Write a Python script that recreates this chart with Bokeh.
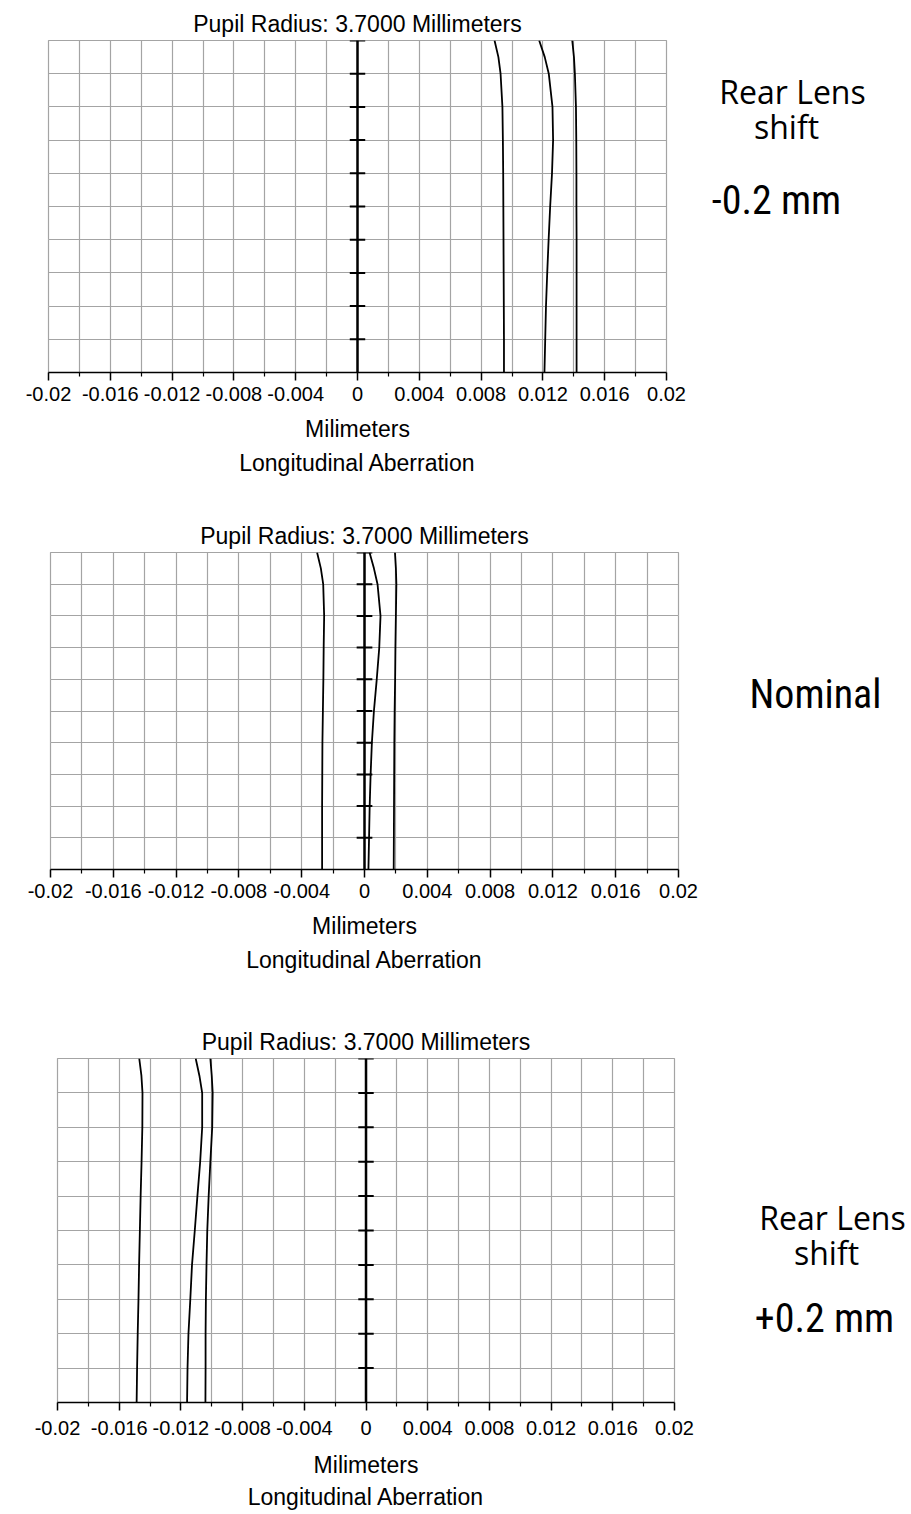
from bokeh.plotting import figure
from bokeh.layouts import row, column
from bokeh.models import Range1d, FixedTicker, Grid, Title
from bokeh.core.properties import value
from bokeh.embed import file_html
from bokeh.resources import INLINE

# ---------------- data ----------------
PUPIL = [0.0, 0.1, 0.2, 0.3, 0.4, 0.5, 0.6, 0.7, 0.8, 0.9, 0.95, 1.0]

# Rear lens shift -0.2 mm
p1_a = [0.00948, 0.00948, 0.00947, 0.00946, 0.00945, 0.00944, 0.00943, 0.00941, 0.00938, 0.00926, 0.00912, 0.00887]
p1_b = [0.01210, 0.01215, 0.01220, 0.01228, 0.01237, 0.01247, 0.01259, 0.01266, 0.01262, 0.01238, 0.01212, 0.01176]
p1_c = [0.01418, 0.01418, 0.01418, 0.01418, 0.01418, 0.01417, 0.01417, 0.01416, 0.01414, 0.01407, 0.01401, 0.01390]

# Nominal
p2_a = [-0.00270, -0.00270, -0.00270, -0.00269, -0.00268, -0.00265, -0.00262, -0.00260, -0.00257, -0.00263, -0.00278, -0.00302]
p2_b = [0.00025, 0.00029, 0.00033, 0.00039, 0.00047, 0.00060, 0.00078, 0.00094, 0.00102, 0.00083, 0.00060, 0.00032]
p2_c = [0.00186, 0.00187, 0.00188, 0.00189, 0.00190, 0.00192, 0.00195, 0.00197, 0.00200, 0.00203, 0.00200, 0.00194]

# Rear lens shift +0.2 mm
p3_a = [-0.01487, -0.01484, -0.01480, -0.01475, -0.01471, -0.01466, -0.01461, -0.01455, -0.01450, -0.01449, -0.01456, -0.01470]
p3_b = [-0.01160, -0.01157, -0.01151, -0.01139, -0.01128, -0.01110, -0.01093, -0.01075, -0.01062, -0.01062, -0.01080, -0.01104]
p3_c = [-0.01041, -0.01040, -0.01040, -0.01038, -0.01034, -0.01029, -0.01020, -0.01009, -0.00997, -0.00994, -0.01000, -0.01009]

X_TICKS = [-0.02, -0.016, -0.012, -0.008, -0.004, 0.0, 0.004, 0.008, 0.012, 0.016, 0.02]
X_TICK_LABELS = ["-0.02", "-0.016", "-0.012", "-0.008", "-0.004", "0", "0.004", "0.008", "0.012", "0.016", "0.02"]
X_MINOR = [-0.018, -0.014, -0.010, -0.006, -0.002, 0.002, 0.006, 0.010, 0.014, 0.018]
PUPIL_GRID = [0.1, 0.2, 0.3, 0.4, 0.5, 0.6, 0.7, 0.8, 0.9, 1.0]

TITLE = "Pupil Radius: 3.7000 Millimeters"
XLABEL = "Milimeters"
XLABEL2 = "Longitudinal Aberration"

# ---------------- layout / style ----------------
GRID_COLOR = "#a4a4a4"
FONT = "Liberation Sans"
TICK_HALF = 0.0005

PANELS = [
    dict(a=p1_a, b=p1_b, c=p1_c, y0=0, h=500, left=48, fw=618, top=40, fh=332,
         lab_so=6, axl_so=12, t2_so=6),
    dict(a=p2_a, b=p2_b, c=p2_c, y0=500, h=500, left=50, fw=628, top=52, fh=317,
         lab_so=6, axl_so=12, t2_so=6),
    dict(a=p3_a, b=p3_b, c=p3_c, y0=1000, h=514, left=57, fw=617, top=58, fh=344,
         lab_so=10, axl_so=14, t2_so=3),
]
PLOT_W = 700
TEXT_W = 211

SANS = "Open Sans"
NARROW = "Roboto Condensed"
SIDE_TEXTS = [
    [("Rear Lens", 792, 91, SANS, "32px"), ("shift", 786, 126, SANS, "32px"),
     ("-0.2 mm", 776, 200, NARROW, "40px")],
    [("Nominal", 815, 694, NARROW, "40px")],
    [("Rear Lens", 832, 1217, SANS, "32px"), ("shift", 826, 1252, SANS, "32px"),
     ("+0.2 mm", 824, 1318, NARROW, "40px")],
]


def make_panel(cfg):
    p = figure(width=PLOT_W, height=cfg["h"], output_backend="svg", toolbar_location=None,
               x_range=Range1d(-0.02, 0.02), y_range=Range1d(0, 1),
               y_axis_location=None, x_axis_location="below")
    p.min_border_left = cfg["left"]
    p.min_border_right = PLOT_W - cfg["left"] - cfg["fw"]
    p.min_border_top = cfg["top"]
    p.min_border_bottom = cfg["h"] - cfg["top"] - cfg["fh"]
    p.background_fill_color = "white"
    p.border_fill_color = "white"
    p.outline_line_color = GRID_COLOR
    p.outline_line_width = 1.2

    p.title.text = TITLE
    p.title.align = "center"
    p.title.text_font = FONT
    p.title.text_font_size = "23px"
    p.title.text_font_style = "normal"
    p.title.text_color = "black"
    p.title.standoff = 7

    ax = p.xaxis[0]
    ax.ticker = FixedTicker(ticks=X_TICKS, minor_ticks=X_MINOR)
    ax.major_label_overrides = {t: l for t, l in zip(X_TICKS, X_TICK_LABELS)}
    ax.major_label_text_font = FONT
    ax.major_label_text_font_size = "20px"
    ax.major_label_text_color = "black"
    ax.major_label_standoff = cfg["lab_so"]
    ax.axis_line_color = "black"
    ax.axis_line_width = 1.5
    ax.major_tick_line_color = "black"
    ax.major_tick_line_width = 1.5
    ax.major_tick_out = 8
    ax.major_tick_in = 0
    ax.minor_tick_line_color = "black"
    ax.minor_tick_line_width = 1.2
    ax.minor_tick_out = 4
    ax.minor_tick_in = 0
    ax.axis_label = XLABEL
    ax.axis_label_text_font = FONT
    ax.axis_label_text_font_size = "23px"
    ax.axis_label_text_font_style = "normal"
    ax.axis_label_text_color = "black"
    ax.axis_label_standoff = cfg["axl_so"]

    p.add_layout(Title(text=XLABEL2, align="center", text_font=FONT, text_font_size="23px",
                       text_font_style="normal", text_color="black", standoff=cfg["t2_so"]), "below")

    g = p.xgrid[0]
    g.grid_line_color = GRID_COLOR
    g.grid_line_width = 1.2
    g.minor_grid_line_color = GRID_COLOR
    g.minor_grid_line_width = 1.2
    p.add_layout(Grid(dimension=1, ticker=FixedTicker(ticks=PUPIL_GRID),
                      grid_line_color=GRID_COLOR, grid_line_width=1.2))

    # central pupil axis with ticks
    p.line([0, 0], [0, 1], line_color="black", line_width=2.5)
    p.segment(x0=[-TICK_HALF] * len(PUPIL_GRID), x1=[TICK_HALF] * len(PUPIL_GRID),
              y0=PUPIL_GRID, y1=PUPIL_GRID, line_color="black", line_width=2)

    for key in ("a", "b", "c"):
        p.line(cfg[key], PUPIL, line_color="black", line_width=1.8)
    return p


def make_text(cfg, items):
    # frame aligned with the plot frame; coordinates are page pixels
    t = figure(width=TEXT_W, height=cfg["h"], output_backend="svg", toolbar_location=None,
               x_range=Range1d(PLOT_W, PLOT_W + TEXT_W),
               y_range=Range1d(cfg["y0"] + cfg["top"] + cfg["fh"], cfg["y0"] + cfg["top"]),
               x_axis_location=None, y_axis_location=None)
    t.min_border_left = 0
    t.min_border_right = 0
    t.min_border_top = cfg["top"]
    t.min_border_bottom = cfg["h"] - cfg["top"] - cfg["fh"]
    t.outline_line_color = None
    t.grid.visible = False
    for txt, x, y, font, size in items:
        t.text(x=[x], y=[y], text=[txt], text_align="center", text_baseline="middle",
               text_font=value(font), text_font_size=value(size), text_color="black")
    return t


rows = []
for cfg, items in zip(PANELS, SIDE_TEXTS):
    rows.append(row(make_panel(cfg), make_text(cfg, items)))

layout = column(*rows)
open("out.html", "w").write(file_html(layout, INLINE))
